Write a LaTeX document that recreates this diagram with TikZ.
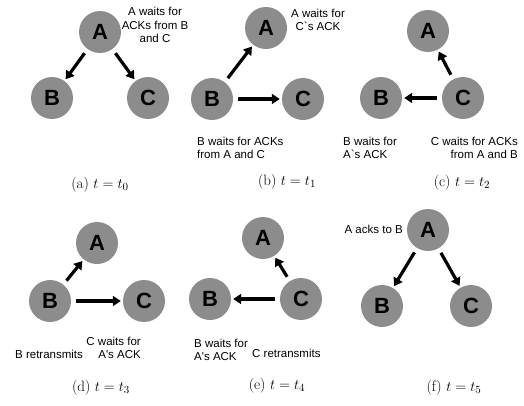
\documentclass[tikz,border=0pt]{standalone}
\usepackage{fontspec}
\newfontfamily\lab{Liberation Sans}
\usetikzlibrary{arrows.meta}
\begin{document}
\begin{tikzpicture}[x=1pt,y=-1pt,
  nd/.style={circle,fill=black!45,minimum size=42pt,inner sep=0pt,font=\lab\bfseries\fontsize{22}{22}\selectfont},
  arr/.style={line width=3.2pt,-{Triangle[length=8pt,width=10pt]},shorten <=5pt,shorten >=2pt},
  lbl/.style={font=\lab\fontsize{11.5}{13.5}\selectfont,inner sep=0pt},
  captxt/.style={font=\fontsize{15}{17}\selectfont,inner sep=0pt}]
\useasboundingbox (0,0) rectangle (524,405);
% (a)
\node[nd] (aA) at (100,32) {A};
\node[nd] (aB) at (52,98) {B};
\node[nd] (aC) at (148,98) {C};
\draw[arr] (aA) -- (aB);
\draw[arr] (aA) -- (aC);
\node[lbl,align=center] (aL) at (155,25) {A waits for\\ACKs from B\\and C};
\node[captxt] (aT) at (100,185) {(a) $t=t_0$};
% (b)
\node[nd] (bA) at (266,28) {A};
\node[nd] (bB) at (212,99) {B};
\node[nd] (bC) at (303,99) {C};
\draw[arr] (bB) -- (bA);
\draw[arr] (bB) -- (bC);
\node[lbl,align=center] (bL1) at (318,20) {A waits for\\C`s ACK};
\node[lbl,align=left,anchor=west] (bL2) at (197,148) {B waits for ACKs\\from A and C};
\node[captxt] (bT) at (287,182) {(b) $t=t_1$};
% (c)
\node[nd] (cA) at (428,31) {A};
\node[nd] (cB) at (381,98) {B};
\node[nd] (cC) at (463,98) {C};
\draw[arr] (cC) -- (cA);
\draw[arr] (cC) -- (cB);
\node[lbl,align=left,anchor=west] (cL1) at (343,148) {B waits for\\A`s ACK};
\node[lbl,align=right,anchor=east] (cL2) at (518,148) {C waits for ACKs\\from A and B};
\node[captxt] (cT) at (462,183) {(c) $t=t_2$};
% (d)
\node[nd] (dA) at (97,243) {A};
\node[nd] (dB) at (50,301) {B};
\node[nd] (dC) at (144,301) {C};
\draw[arr] (dB) -- (dA);
\draw[arr] (dB) -- (dC);
\node[lbl,anchor=west] (dL1) at (15,354) {B retransmits};
\node[lbl,align=right,anchor=east] (dL2) at (141,348) {C waits for\\A's ACK};
\node[captxt] (dT) at (101,388) {(d) $t=t_3$};
% (e)
\node[nd] (eA) at (263,238) {A};
\node[nd] (eB) at (210,299) {B};
\node[nd] (eC) at (301,299) {C};
\draw[arr] (eC) -- (eA);
\draw[arr] (eC) -- (eB);
\node[lbl,align=left,anchor=west] (eL1) at (194,350) {B waits for\\A's ACK};
\node[lbl,anchor=west] (eL2) at (252,353) {C retransmits};
\node[captxt] (eT) at (277,386) {(e) $t=t_4$};
% (f)
\node[nd] (fA) at (428,230) {A};
\node[nd] (fB) at (382,306) {B};
\node[nd] (fC) at (471,306) {C};
\draw[arr] (fA) -- (fB);
\draw[arr] (fA) -- (fC);
\node[lbl,anchor=east] (fL) at (403,229) {A acks to B};
\node[captxt] (fT) at (454,388) {(f) $t=t_5$};
\end{tikzpicture}
\end{document}
